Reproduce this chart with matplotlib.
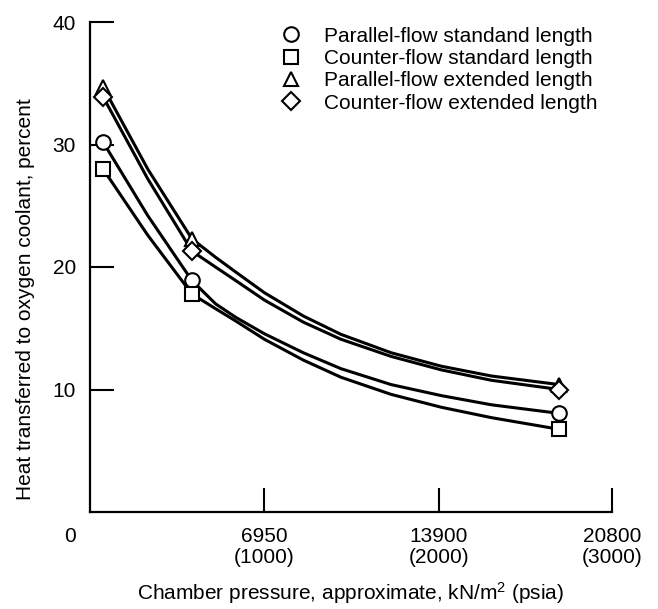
import matplotlib
matplotlib.use("Agg")
import matplotlib.pyplot as plt
from matplotlib.lines import Line2D

plt.rcParams['font.family'] = ['Liberation Sans', 'DejaVu Sans']
plt.rcParams['mathtext.default'] = 'regular'

# measured points (kN/m^2, percent)
x_pts = [520, 4060, 18700]
par_std = [30.2, 18.9, 8.05]
cnt_std = [28.0, 17.8, 6.75]
par_ext = [34.7, 22.3, 10.4]
cnt_ext = [33.9, 21.3, 10.0]

# faired curves
x_curve = [520, 2300, 4060, 5000, 5800, 6950, 8500, 10000, 12000, 14000, 16000, 18700]
par_std_c = [30.2, 24.2, 18.9, 17.0, 15.9, 14.55, 13.0, 11.7, 10.4, 9.5, 8.75, 8.05]
cnt_std_c = [28.0, 22.6, 17.8, 16.6, 15.6, 14.1, 12.4, 11.0, 9.6, 8.55, 7.7, 6.75]
par_ext_c = [34.7, 28.0, 22.3, 20.8, 19.6, 17.9, 16.0, 14.5, 13.0, 11.9, 11.1, 10.4]
cnt_ext_c = [33.9, 27.2, 21.3, 20.0, 18.9, 17.3, 15.5, 14.1, 12.7, 11.6, 10.75, 10.0]

labels = ["Parallel-flow standand length", "Counter-flow standard length",
          "Parallel-flow extended length", "Counter-flow extended length"]
markers = ['o', 's', '^', 'D']
msizes = [10.5, 10.5, 10.5, 9.5]

xticks = [6950, 13900, 20800]
xticklabels = ["6950\n(1000)", "13900\n(2000)", "20800\n(3000)"]
yticks = [10, 20, 30, 40]

fs = 15

fig = plt.figure(figsize=(6.58, 6.09), dpi=100)
ax = fig.add_axes([90/658, 97/609, 522/658, 490/609])

series = [(par_std, par_std_c), (cnt_std, cnt_std_c), (par_ext, par_ext_c), (cnt_ext, cnt_ext_c)]
for (pts, crv), m, ms in zip(series, markers, msizes):
    ax.plot(x_curve, crv, color='black', lw=2.2, zorder=2, solid_joinstyle='round')
    ax.plot(x_pts, pts, linestyle='none', marker=m, ms=ms, mfc='white', mec='black', mew=1.5,
            zorder=3, clip_on=False)

ax.set_xlim(0, 20800)
ax.set_ylim(0, 40)
ax.spines['top'].set_visible(False)
ax.spines['right'].set_visible(False)
ax.spines['left'].set_linewidth(1.6)
ax.spines['bottom'].set_linewidth(1.6)

ax.set_xticks(xticks)
ax.set_xticklabels(xticklabels)
ax.set_yticks(yticks)
ax.tick_params(axis='both', direction='in', length=17, width=1.5, labelsize=fs)
ax.tick_params(axis='x', pad=11)
ax.tick_params(axis='y', pad=10)
for t in ax.get_xticklabels():
    t.set_linespacing(1.1)

fig.text(70/658, 1 - 536/609, "0", ha='center', va='center', fontsize=fs)

fig.text(351/658, 9/609, "Chamber pressure, approximate, kN/m$^{2}$ (psia)",
         ha='center', va='baseline', fontsize=fs)
ax.set_ylabel("Heat transferred to oxygen coolant, percent", fontsize=fs)
ax.yaxis.set_label_coords(-0.105, 0.435)

handles = [Line2D([], [], linestyle='none', marker=m, ms=ms, mfc='white', mec='black', mew=1.5)
           for m, ms in zip(markers, msizes)]
ax.legend(handles, labels, loc='upper left', bbox_to_anchor=(0.345, 1.012), frameon=False,
          fontsize=fs, handlelength=1.0, handletextpad=1.1, labelspacing=0.16, borderpad=0)

fig.savefig("out.png", dpi=100)
